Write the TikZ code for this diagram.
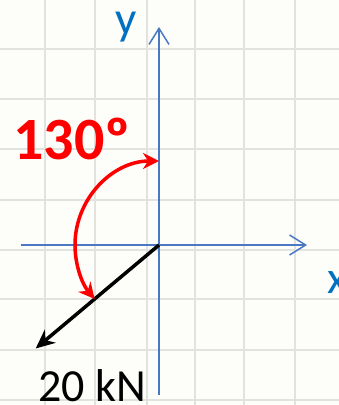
\documentclass[tikz,border=0pt]{standalone}
\usepackage{fontspec}
\setmainfont{Carlito}
\usetikzlibrary{arrows.meta}
\definecolor{axisblue}{RGB}{74,120,196}
\definecolor{labelblue}{RGB}{0,112,192}
\definecolor{gridgray}{RGB}{226,226,222}
\definecolor{paper}{RGB}{253,253,249}
\begin{document}
\begin{tikzpicture}[x=1pt, y=1pt,
    axis/.style={axisblue, line width=1.5pt,
      -{Straight Barb[length=16pt, width=20pt, line width=1.5pt]}},
    gridline/.style={gridgray, line width=1.5pt},
    force/.style={line width=3.5pt, -{Stealth[length=19pt, width=17pt]}},
    anglearc/.style={red, line width=3.5pt,
      {Stealth[length=16pt, width=16pt]}-{Stealth[length=16pt, width=16pt]}}]
  % page and paper
  \fill[paper] (-159,-160) rectangle (180,245);
  \useasboundingbox (-159,-160) rectangle (180,245);
  % faint grid of the squared paper
  \foreach \gx in {-114,-64,-12,36,85,136}
    \draw[gridline] (\gx,-160) -- (\gx,245);
  \foreach \gy in {196,146,96,45,-5,-54,-105,-155}
    \draw[gridline] (-159,\gy) -- (180,\gy);
  % axes
  \coordinate (O) at (0,0);
  \coordinate (xstart) at (-138,0);
  \coordinate (xend) at (148,0);
  \coordinate (ystart) at (0,-150);
  \coordinate (yend) at (0,218);
  \draw[axis] (xstart) -- (xend);
  \draw[axis] (ystart) -- (yend);
  \node[labelblue, font=\fontsize{47}{50}\selectfont] (ylabel) at (-33,218) {y};
  \node[labelblue, font=\fontsize{46}{50}\selectfont] (xlabel) at (178,-38) {x};
  % the 20 kN force at 130 degrees from y
  \coordinate (F) at (220:161);
  \draw[force] (O) -- (F);
  \node[anchor=base, font=\fontsize{46}{50}\selectfont] (flabel) at (-67,-156) {20 kN};
  % angle arc
  \draw[anglearc] (0,84) arc[start angle=90, end angle=220, radius=84];
  \node[red, font=\fontsize{60}{64}\selectfont\bfseries] (angle) at (-87,106) {130º};
\end{tikzpicture}
\end{document}
